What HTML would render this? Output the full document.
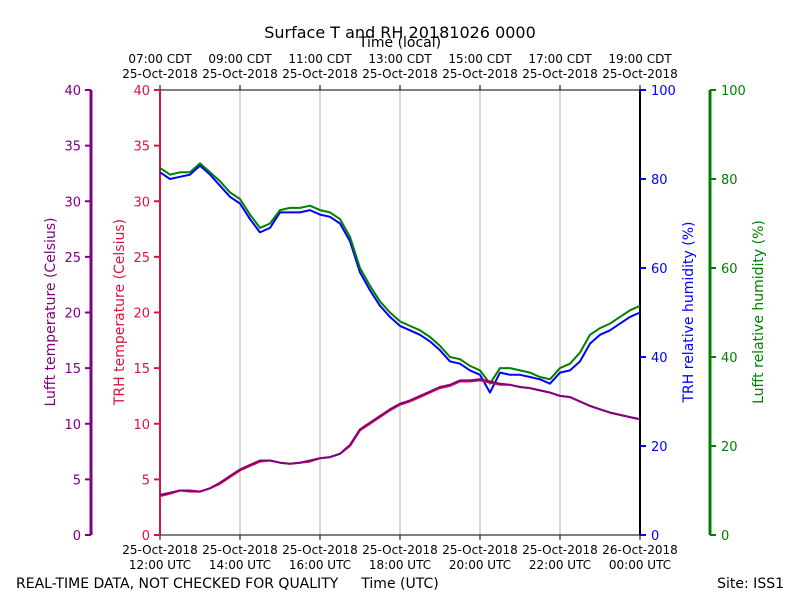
<!DOCTYPE html>
<html><head><meta charset="utf-8"><style>
body{margin:0;background:#fff}
svg{font-family:"DejaVu Sans","Liberation Sans",sans-serif}
</style></head><body>
<svg id="c" width="800" height="600" viewBox="0 0 800 600"></svg>
<script>
// hours since 12:00 UTC, 15-min resolution
const hours = [0,0.25,0.5,0.75,1,1.25,1.5,1.75,2,2.25,2.5,2.75,3,3.25,3.5,3.75,4,4.25,4.5,4.75,5,5.25,5.5,5.75,6,6.25,6.5,6.75,7,7.25,7.5,7.75,8,8.25,8.5,8.75,9,9.25,9.5,9.75,10,10.25,10.5,10.75,11,11.25,11.5,11.75,12];
const tempTRH = [3.5,3.7,4.0,3.9,3.9,4.2,4.6,5.2,5.8,6.2,6.6,6.7,6.5,6.4,6.5,6.6,6.9,7.0,7.3,8.0,9.4,10.0,10.6,11.2,11.7,12.0,12.4,12.8,13.2,13.4,13.8,13.8,13.9,13.7,13.5,13.5,13.3,13.2,13.0,12.8,12.5,12.4,12.0,11.6,11.3,11.0,10.8,10.6,10.4];
const tempLufft = [3.6,3.8,4.0,4.0,3.9,4.2,4.7,5.3,5.9,6.3,6.7,6.7,6.5,6.4,6.5,6.7,6.9,7.0,7.3,8.1,9.5,10.1,10.7,11.3,11.8,12.1,12.5,12.9,13.3,13.5,13.9,13.9,14.0,13.8,13.6,13.5,13.3,13.2,13.0,12.8,12.5,12.4,12.0,11.6,11.3,11.0,10.8,10.6,10.4];
const rhTRH = [81.5,80,80.5,81,83,81,78.5,76,74.5,71,68,69,72.5,72.5,72.5,73,72,71.5,70,66,59,55,51.5,49,47,46,45,43.5,41.5,39,38.5,37,36,32,36.5,36,36,35.5,35,34,36.5,37,39,43,45,46,47.5,49,50];
const rhLufft = [82.5,81,81.5,81.5,83.5,81.5,79.5,77,75.5,72,69,70,73,73.5,73.5,74,73,72.5,71,67,60,56,52.5,50,48,47,46,44.5,42.5,40,39.5,38,37,34,37.5,37.5,37,36.5,35.5,35,37.5,38.5,41,45,46.5,47.5,49,50.5,51.5];
const tempTicks = [0,5,10,15,20,25,30,35,40];
const rhTicks = [0,20,40,60,80,100];
const timeTicks = [0,2,4,6,8,10,12];
const utcLabels = ["12:00 UTC","14:00 UTC","16:00 UTC","18:00 UTC","20:00 UTC","22:00 UTC","00:00 UTC"];
const utcDates = ["25-Oct-2018","25-Oct-2018","25-Oct-2018","25-Oct-2018","25-Oct-2018","25-Oct-2018","26-Oct-2018"];
const localLabels = ["07:00 CDT","09:00 CDT","11:00 CDT","13:00 CDT","15:00 CDT","17:00 CDT","19:00 CDT"];

const L=160,R=640,T=90,B=535;
const xs=h=>L+(R-L)*h/12;
const yT=v=>B-(B-T)*v/40;
const yR=v=>B-(B-T)*v/100;
const svg=document.getElementById('c');
const NS='http://www.w3.org/2000/svg';
function mk(tag,attrs,parent){const e=document.createElementNS(NS,tag);for(const k in attrs)e.setAttribute(k,attrs[k]);(parent||svg).appendChild(e);return e;}
function txt(s,attrs){const e=mk('text',attrs);e.textContent=s;return e;}

// grid
timeTicks.forEach((h,i)=>{
  if(i>0&&i<timeTicks.length-1){const g=mk('line',{x1:xs(h),x2:xs(h),y1:T,y2:B,stroke:'#b0b0b0','stroke-width':1});
  
  }
  mk('line',{x1:xs(h),x2:xs(h),y1:B,y2:B+5,stroke:'#000'});
  mk('line',{x1:xs(h),x2:xs(h),y1:T,y2:T-5,stroke:'#000'});
  const a=txt(utcDates[i],{x:xs(h),y:554,'font-size':12,'text-anchor':'middle'});
  
  
  const b=txt(utcLabels[i],{x:xs(h),y:569,'font-size':12,'text-anchor':'middle'});
  
  
  const c=txt(localLabels[i],{x:xs(h),y:63,'font-size':12,'text-anchor':'middle'});
  
  
  const d=txt(utcDates[0],{x:xs(h),y:78,'font-size':12,'text-anchor':'middle'});
  
  
});

// frame
mk('line',{x1:L,x2:R,y1:T,y2:T,stroke:'#000'});
mk('line',{x1:L,x2:R,y1:B,y2:B,stroke:'#000'});
mk('line',{x1:L,x2:L,y1:T,y2:B,stroke:'#dc143c','stroke-width':2});
mk('line',{x1:R,x2:R,y1:T,y2:B,stroke:'#000','stroke-width':2});
mk('line',{x1:91,x2:91,y1:T,y2:B,stroke:'#800080','stroke-width':3});
mk('line',{x1:710,x2:710,y1:T,y2:B,stroke:'#008000','stroke-width':3});

tempTicks.forEach(v=>{
  mk('line',{x1:85,x2:91,y1:yT(v),y2:yT(v),stroke:'#800080','stroke-width':2});
  const a=txt(v,{x:81,y:yT(v)+5,'font-size':13,'text-anchor':'end',fill:'#800080'});
  
  
  mk('line',{x1:154,x2:160,y1:yT(v),y2:yT(v),stroke:'#dc143c','stroke-width':2});
  const b=txt(v,{x:150,y:yT(v)+5,'font-size':13,'text-anchor':'end',fill:'#dc143c'});
  
  
});
rhTicks.forEach(v=>{
  mk('line',{x1:640,x2:646,y1:yR(v),y2:yR(v),stroke:'#0000ff','stroke-width':2});
  const a=txt(v,{x:651,y:yR(v)+5,'font-size':13,fill:'#0000ff'});
  
  
  mk('line',{x1:710,x2:716,y1:yR(v),y2:yR(v),stroke:'#008000','stroke-width':2});
  const b=txt(v,{x:721,y:yR(v)+5,'font-size':13,fill:'#008000'});
  
  
});

function line(vals,yf,color,name){
  const d=vals.map((v,i)=>(i?'L':'M')+xs(hours[i]).toFixed(1)+','+yf(v).toFixed(1)).join('');
  const p=mk('path',{d:d,fill:'none',stroke:color,'stroke-width':2,'stroke-linejoin':'round'});
  
  
}
line(rhTRH,yR,'#0000ff','trh-rh-line');
line(rhLufft,yR,'#008000','lufft-rh-line');
line(tempTRH,yT,'#dc143c','trh-temp-line');
line(tempLufft,yT,'#800080','lufft-temp-line');

function vt(s,x,color,name){const t=txt(s,{x:x,y:312,'font-size':14,'text-anchor':'middle',fill:color,transform:`rotate(-90 ${x} 312)`});
  
  }
vt('Lufft temperature (Celsius)',55,'#800080','lufft-temp-title');
vt('TRH temperature (Celsius)',124,'#dc143c','trh-temp-title');
vt('TRH relative humidity (%)',693,'#0000ff','trh-rh-title');
vt('Lufft relative humidity (%)',763,'#008000','lufft-rh-title');

const t1=txt('Surface T and RH 20181026 0000',{x:400,y:38,'font-size':16,'text-anchor':'middle'});


const t2=txt('Time (local)',{x:400,y:47,'font-size':14,'text-anchor':'middle'});


const t3=txt('REAL-TIME DATA, NOT CHECKED FOR QUALITY',{x:16,y:588,'font-size':14});


const t4=txt('Time (UTC)',{x:400,y:588,'font-size':14,'text-anchor':'middle'});


const t5=txt('Site: ISS1',{x:784,y:588,'font-size':14,'text-anchor':'end'});


</script>
</body></html>
